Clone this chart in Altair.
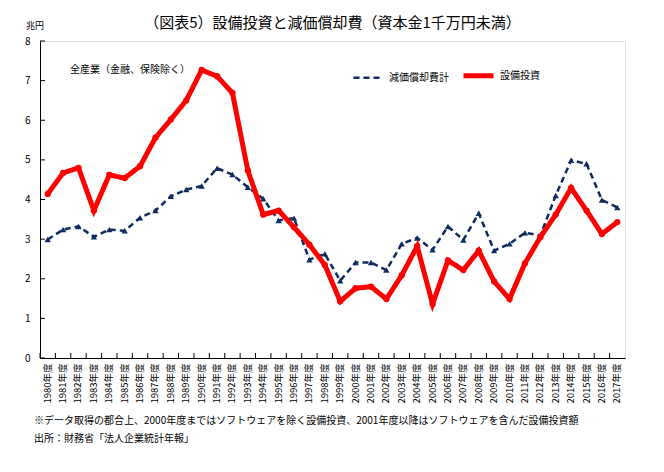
import altair as alt
import pandas as pd

years = [f"{y}年度" for y in range(1980, 2018)]
capex = [4.14, 4.67, 4.80, 3.72, 4.62, 4.54, 4.84, 5.56, 6.02, 6.50,
         7.27, 7.11, 6.69, 4.73, 3.62, 3.72, 3.30, 2.86, 2.35, 1.43,
         1.76, 1.80, 1.49, 2.09, 2.82, 1.36, 2.46, 2.22, 2.71, 1.93,
         1.49, 2.39, 3.05, 3.62, 4.29, 3.72, 3.13, 3.43]
depr = [2.99, 3.24, 3.32, 3.06, 3.24, 3.21, 3.54, 3.72, 4.08, 4.25,
        4.34, 4.79, 4.63, 4.31, 4.02, 3.47, 3.53, 2.48, 2.63, 1.95,
        2.41, 2.41, 2.22, 2.88, 3.03, 2.73, 3.32, 2.98, 3.65, 2.71,
        2.88, 3.16, 3.09, 4.10, 4.99, 4.90, 3.99, 3.80]
series_names = ["減価償却費計", "設備投資"]
y_ticks = [0, 1, 2, 3, 4, 5, 6, 7, 8]

title = "（図表5）設備投資と減価償却費（資本金1千万円未満）"
unit = "兆円"
annotation = "全産業（金融、保険除く）"
note1 = "※データ取得の都合上、2000年度まではソフトウェアを除く設備投資、2001年度以降はソフトウェアを含んだ設備投資額"
note2 = "出所：財務省「法人企業統計年報」"

FONT = "Noto Sans CJK JP"
NAVY = "#0f2b5f"
RED = "#ff0000"
W, H = 585, 317

df = pd.DataFrame({
    "year": years * 2,
    "value": depr + capex,
    "series": [series_names[0]] * len(years) + [series_names[1]] * len(years),
})

xscale = alt.Scale(type="band", paddingInner=0, paddingOuter=0, domain=years)
yscale = alt.Scale(domain=[0, 8], nice=False)

x_axis = alt.Axis(ticks=False, labelAngle=270, labelFontSize=9.5,
                  labelPadding=5, domainColor="black", labelColor="black",
                  labelFont=FONT, title=None)
y_axis = alt.Axis(values=y_ticks, ticks=False, grid=False, labelFontSize=10,
                  labelPadding=10, domainColor="black", labelColor="black",
                  labelFont=FONT, labelOverlap=False, title=None)

x_enc = alt.X("year:N", scale=xscale, sort=years, title=None, axis=x_axis)
y_enc = alt.Y("value:Q", scale=yscale, title=None, axis=y_axis)

color = alt.Color("series:N", scale=alt.Scale(domain=series_names, range=[NAVY, RED]),
                  title=None,
                  legend=alt.Legend(orient="none", legendX=312, legendY=17,
                                    direction="horizontal", symbolType="stroke",
                                    symbolSize=900, labelFontSize=10, labelFont=FONT,
                                    columnPadding=4, symbolStrokeWidth=3))
dash = alt.StrokeDash("series:N", scale=alt.Scale(domain=series_names, range=[[6, 4], [1, 0]]),
                      title=None)
swidth = alt.StrokeWidth("series:N", scale=alt.Scale(domain=series_names, range=[2.5, 5]),
                         title=None)

base = alt.Chart(df)

line_dep = base.transform_filter(alt.datum.series == series_names[0]).mark_line().encode(
    x=x_enc, y=y_enc, color=color, strokeDash=dash, strokeWidth=swidth)
pts_dep = base.transform_filter(alt.datum.series == series_names[0]).mark_point(
    shape="triangle-up", filled=True, size=40, color=NAVY, opacity=1).encode(x=x_enc, y=y_enc)
line_cap = base.transform_filter(alt.datum.series == series_names[1]).mark_line().encode(
    x=x_enc, y=y_enc, color=color, strokeDash=dash, strokeWidth=swidth)
pts_cap = base.transform_filter(alt.datum.series == series_names[1]).mark_point(
    shape="circle", filled=True, size=40, color=RED, opacity=1).encode(x=x_enc, y=y_enc)

ytick_layer = alt.Chart(pd.DataFrame({"value": y_ticks})).mark_rule(color="black", strokeWidth=1).encode(
    y=y_enc, x=alt.value(0), x2=alt.value(5))
xtick_layer = alt.Chart(pd.DataFrame({"year": years})).mark_rule(color="black", strokeWidth=1).encode(
    x=alt.X("year:N", scale=xscale, sort=years, bandPosition=0, title=None, axis=x_axis),
    y=alt.value(H), y2=alt.value(H - 5))

texts = pd.DataFrame({
    "t": [title, unit, annotation],
    "px": [W / 2, -14, 30],
    "py": [-18, -15, 29],
})
title_layer = alt.Chart(texts.iloc[[0]]).mark_text(
    align="center", baseline="middle", fontSize=15, font=FONT, color="black").encode(
    text="t:N", x=alt.X("px:Q", scale=None), y=alt.Y("py:Q", scale=None))
unit_layer = alt.Chart(texts.iloc[[1]]).mark_text(
    align="left", baseline="middle", fontSize=9, font=FONT, color="black").encode(
    text="t:N", x=alt.X("px:Q", scale=None), y=alt.Y("py:Q", scale=None))
annot_layer = alt.Chart(texts.iloc[[2]]).mark_text(
    align="left", baseline="middle", fontSize=10, font=FONT, color="black").encode(
    text="t:N", x=alt.X("px:Q", scale=None), y=alt.Y("py:Q", scale=None))
notes = alt.Chart(pd.DataFrame({"t": [note1, note2], "yy": [380, 398]})).mark_text(
    align="left", baseline="middle", fontSize=10, font=FONT, color="black").encode(
    text="t:N", x=alt.value(-6), y=alt.Y("yy:Q", scale=None))

chart = alt.layer(line_dep, pts_dep, line_cap, pts_cap, ytick_layer, xtick_layer,
                  title_layer, unit_layer, annot_layer, notes).properties(
    width=W, height=H,
    padding={"left": 32, "top": 33, "right": 20, "bottom": 100},
    autosize=alt.AutoSizeParams(type="none"),
).configure_view(stroke="black", strokeWidth=1.2).configure(
    background="white")

chart.save("out.html", embed_options={"renderer": "svg", "actions": False})
